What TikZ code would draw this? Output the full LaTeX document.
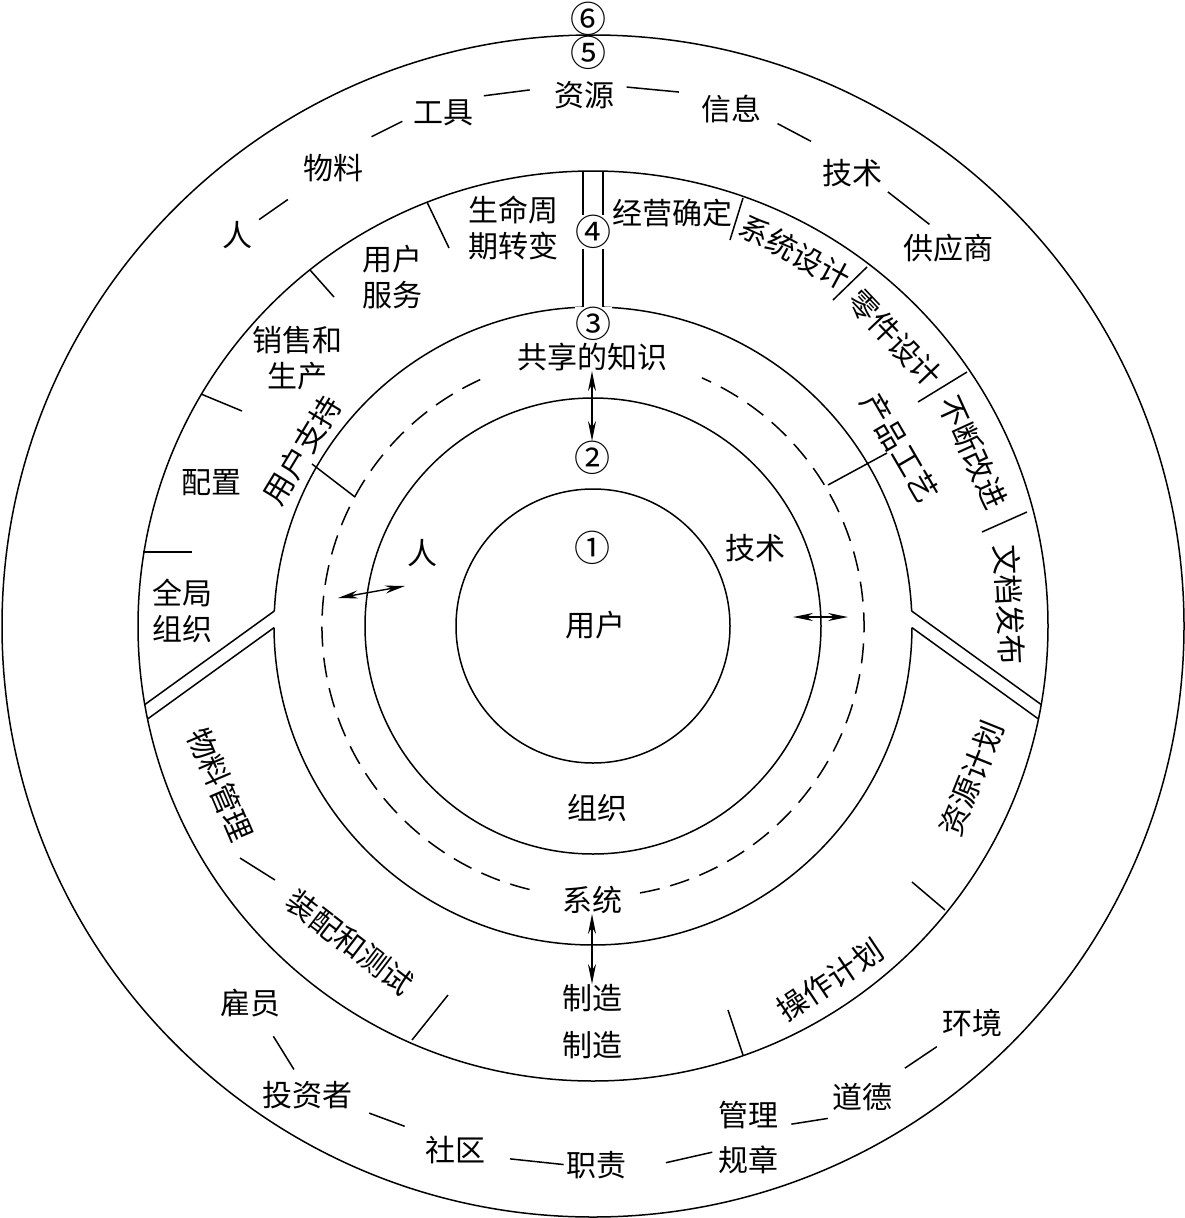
\documentclass[tikz,border=0pt]{standalone}
\usepackage{fontspec}
\newfontfamily\cjk{Noto Sans CJK SC}
\usetikzlibrary{arrows.meta,calc}
\begin{document}
\begin{tikzpicture}[x=1pt,y=1pt,
  every node/.style={font=\cjk\fontsize{30}{36}\selectfont, inner sep=0pt},
  two/.style={align=center},
  ln/.style={line width=1.5pt},
  link/.style={line width=1.5pt},
  tick/.style={line width=1.5pt},
  dsh/.style={line width=1.5pt, dash pattern=on 20pt off 11pt},
  dar/.style={line width=1.4pt, {Stealth[length=20pt,width=8pt]}-{Stealth[length=20pt,width=8pt]}},
  num/.style={font=\cjk\fontsize{36}{38}\selectfont}
]
\useasboundingbox (0,0) rectangle (1184,-1218);
\fill[white] (0,0) rectangle (1184,-1218);
\coordinate (C) at (593,-626);

% circles
\draw[ln] (C) circle (591);
\draw[ln] (C) circle (455);
\draw[ln] (C) circle (228);
\draw[ln] (C) circle (137);
\draw[ln] ($(C)+(2.7:319)$) arc[start angle=2.7, end angle=88.2, radius=319];
\draw[ln] ($(C)+(91.8:319)$) arc[start angle=91.8, end angle=177.3, radius=319];
\draw[ln] ($(C)+(180.3:319)$) arc[start angle=180.3, end angle=359.7, radius=319];
\draw[dsh] ($(C)+(114.6:271)$) arc[start angle=114.6, end angle=257, radius=271];
\draw[dsh] ($(C)+(-80:271)$) arc[start angle=-80, end angle=66.3, radius=271];

% main dividers (double lines)
\draw[ln] (583,-307) -- (583,-171);
\draw[ln] (603,-307) -- (603,-171);
\begin{scope}
  \clip (C) circle (455);
  \draw[ln] ($(C)+(177.3:319)$) -- ++(-252,-182);
  \draw[ln] ($(C)+(180.3:319)$) -- ++(-252,-182);
  \draw[ln] ($(C)+(2.7:319)$) -- ++(252,-182);
  \draw[ln] ($(C)+(-0.3:319)$) -- ++(252,-182);
\end{scope}

% ticks
\draw[tick] (427,-202) -- (449,-248);
\draw[tick] (310,-270) -- (334,-297);
\draw[tick] (201,-394) -- (242,-411);
\draw[tick] (143,-552) -- (192,-552);
\draw[tick] (743,-198) -- (730,-240);
\draw[tick] (867,-267) -- (833,-300);
\draw[tick] (967,-372) -- (918,-402);
\draw[tick] (1027,-512) -- (982,-532);
\draw[tick] (312,-464) -- (355,-497);
\draw[tick] (828,-485) -- (887,-453);
\draw[tick] (912,-882) -- (945,-910);
\draw[tick] (728,-1010) -- (743,-1055);
\draw[tick] (448,-995) -- (412,-1040);
\draw[tick] (240,-858) -- (275,-880);

% circled numbers
\node[num] (c6) at (588,-18.5) {⑥};
\node[num,fill=white,inner sep=0.5pt] (c5) at (588,-53) {⑤};
\node[num,fill=white,inner sep=0.5pt] (c4) at (593,-232) {④};
\node[num,fill=white,inner sep=0.5pt] (c3) at (593,-324) {③};
\node[num] (c2) at (592,-458) {②};
\node[num] (c1) at (592,-548) {①};

% inner labels
\node (share) at (592,-357) {共享的知识};
\node (ren2) at (422,-553) {人};
\node (jishu2) at (755,-548) {技术};
\node (yonghu) at (595,-625) {用户};
\node (zuzhi) at (597,-808) {组织};
\node (xitong) at (592,-900) {系统};
\node (zhizao1) at (592,-998) {制造};
\node (zhizao2) at (592,-1045) {制造};

% arrows
\draw[dar] (share) -- (c2);
\draw[dar] (xitong) -- (zhizao1);
\coordinate (la1) at (338,-598);
\coordinate (la2) at (405,-586);
\coordinate (ra1) at (793,-617);
\coordinate (ra2) at (848,-617);
\draw[dar] (la1) -- (la2);
\draw[dar] (ra1) -- (ra2);

% ring labels, straight
\node (jyqd) at (672,-213) {经营确定};
\node[two] (smzq) at (513,-228) {生命周\\期转变};
\node[two] (yhfw) at (392,-277) {用户\\服务};
\node[two] (xsh) at (297,-358) {销售和\\生产};
\node (peizhi) at (211,-483) {配置};
\node[two] (qjzz) at (182,-611) {全局\\组织};

% ring labels, along the arc
\node[rotate=-28.4] (xtsj) at ($(C)+(61.6:425)$) {系统设计};
\node[rotate=-46.4] (ljsj) at ($(C)+(43.6:417)$) {零件设计};
\node[rotate=-65.4] (bdgj) at ($(C)+(24.6:418)$) {不断改进};
\node[rotate=-87.1] (wdfb) at ($(C)+(2.9:417)$) {文档发布};
\node[rotate=-59.8] (cpgy) at ($(C)+(30.2:355)$) {产品工艺};
\node[rotate=58.8] (yhzc) at ($(C)+(148.8:340)$) {用户支持};
\node[rotate=-66.9] (wlgl) at ($(C)+(203.1:405)$) {物料管理};
\node[rotate=-37.5] (zphcs) at ($(C)+(232.5:399)$) {装配和测试};
\node[rotate=33.8] (czjh) at ($(C)+(303.8:426)$) {操作计划};
\node[rotate=68.1] (zyjh) at ($(C)+(338.1:408)$) {资源计划};

% outer band labels
\node (ziyuan) at (584,-95) {资源};
\node (gongju) at (443,-113) {工具};
\node (wuliao) at (333,-168) {物料};
\node (ren) at (237,-235) {人};
\node (xinxi) at (731,-109) {信息};
\node (jishu) at (852,-173) {技术};
\node (gys) at (948,-248) {供应商};
\node (guyuan) at (250,-1003) {雇员};
\node (tzz) at (307,-1095) {投资者};
\node (shequ) at (455,-1150) {社区};
\node (zhize) at (596,-1165) {职责};
\node (guizhang) at (748,-1160) {规章};
\node (guanli) at (748,-1115) {管理};
\node (daode) at (862,-1097) {道德};
\node (huanjing) at (972,-1023) {环境};

% outer band links
\draw[link] ($(ren)!0.23!(wuliao)$) -- ($(ren)!0.53!(wuliao)$);
\draw[link] ($(wuliao)!0.35!(gongju)+(0,12)$) -- ($(wuliao)!0.63!(gongju)+(0,12)$);
\draw[link] ($(gongju)!0.29!(ziyuan)+(0,12)$) -- ($(gongju)!0.615!(ziyuan)+(0,12)$);
\draw[link] ($(ziyuan)!0.29!(xinxi)+(0,12)$) -- ($(ziyuan)!0.645!(xinxi)+(0,12)$);
\draw[link] ($(xinxi)!0.384!(jishu)+(0,10)$) -- ($(xinxi)!0.661!(jishu)+(0,10)$);
\draw[link] ($(jishu)!0.332!(gys)+(4,6)$) -- ($(jishu)!0.765!(gys)+(4,6)$);
\draw[link] ($(guyuan)!0.34!(tzz)+(4,-2)$) -- ($(guyuan)!0.70!(tzz)+(4,-2)$);
\draw[link] ($(tzz)!0.42!(shequ)+(0,5)$) -- ($(tzz)!0.66!(shequ)+(0,5)$);
\draw[link] ($(shequ)!0.39!(zhize)+(0,-3)$) -- ($(shequ)!0.77!(zhize)+(0,-3)$);
\draw[link] ($(zhize)!0.46!(guizhang)$) -- ($(zhize)!0.765!(guizhang)+(0,9)$);
\draw[link] ($(guanli)!0.38!(daode)+(0,-16)$) -- ($(guanli)!0.70!(daode)+(0,-16)$);
\draw[link] ($(daode)!0.39!(huanjing)$) -- ($(daode)!0.68!(huanjing)$);
\end{tikzpicture}
\end{document}
